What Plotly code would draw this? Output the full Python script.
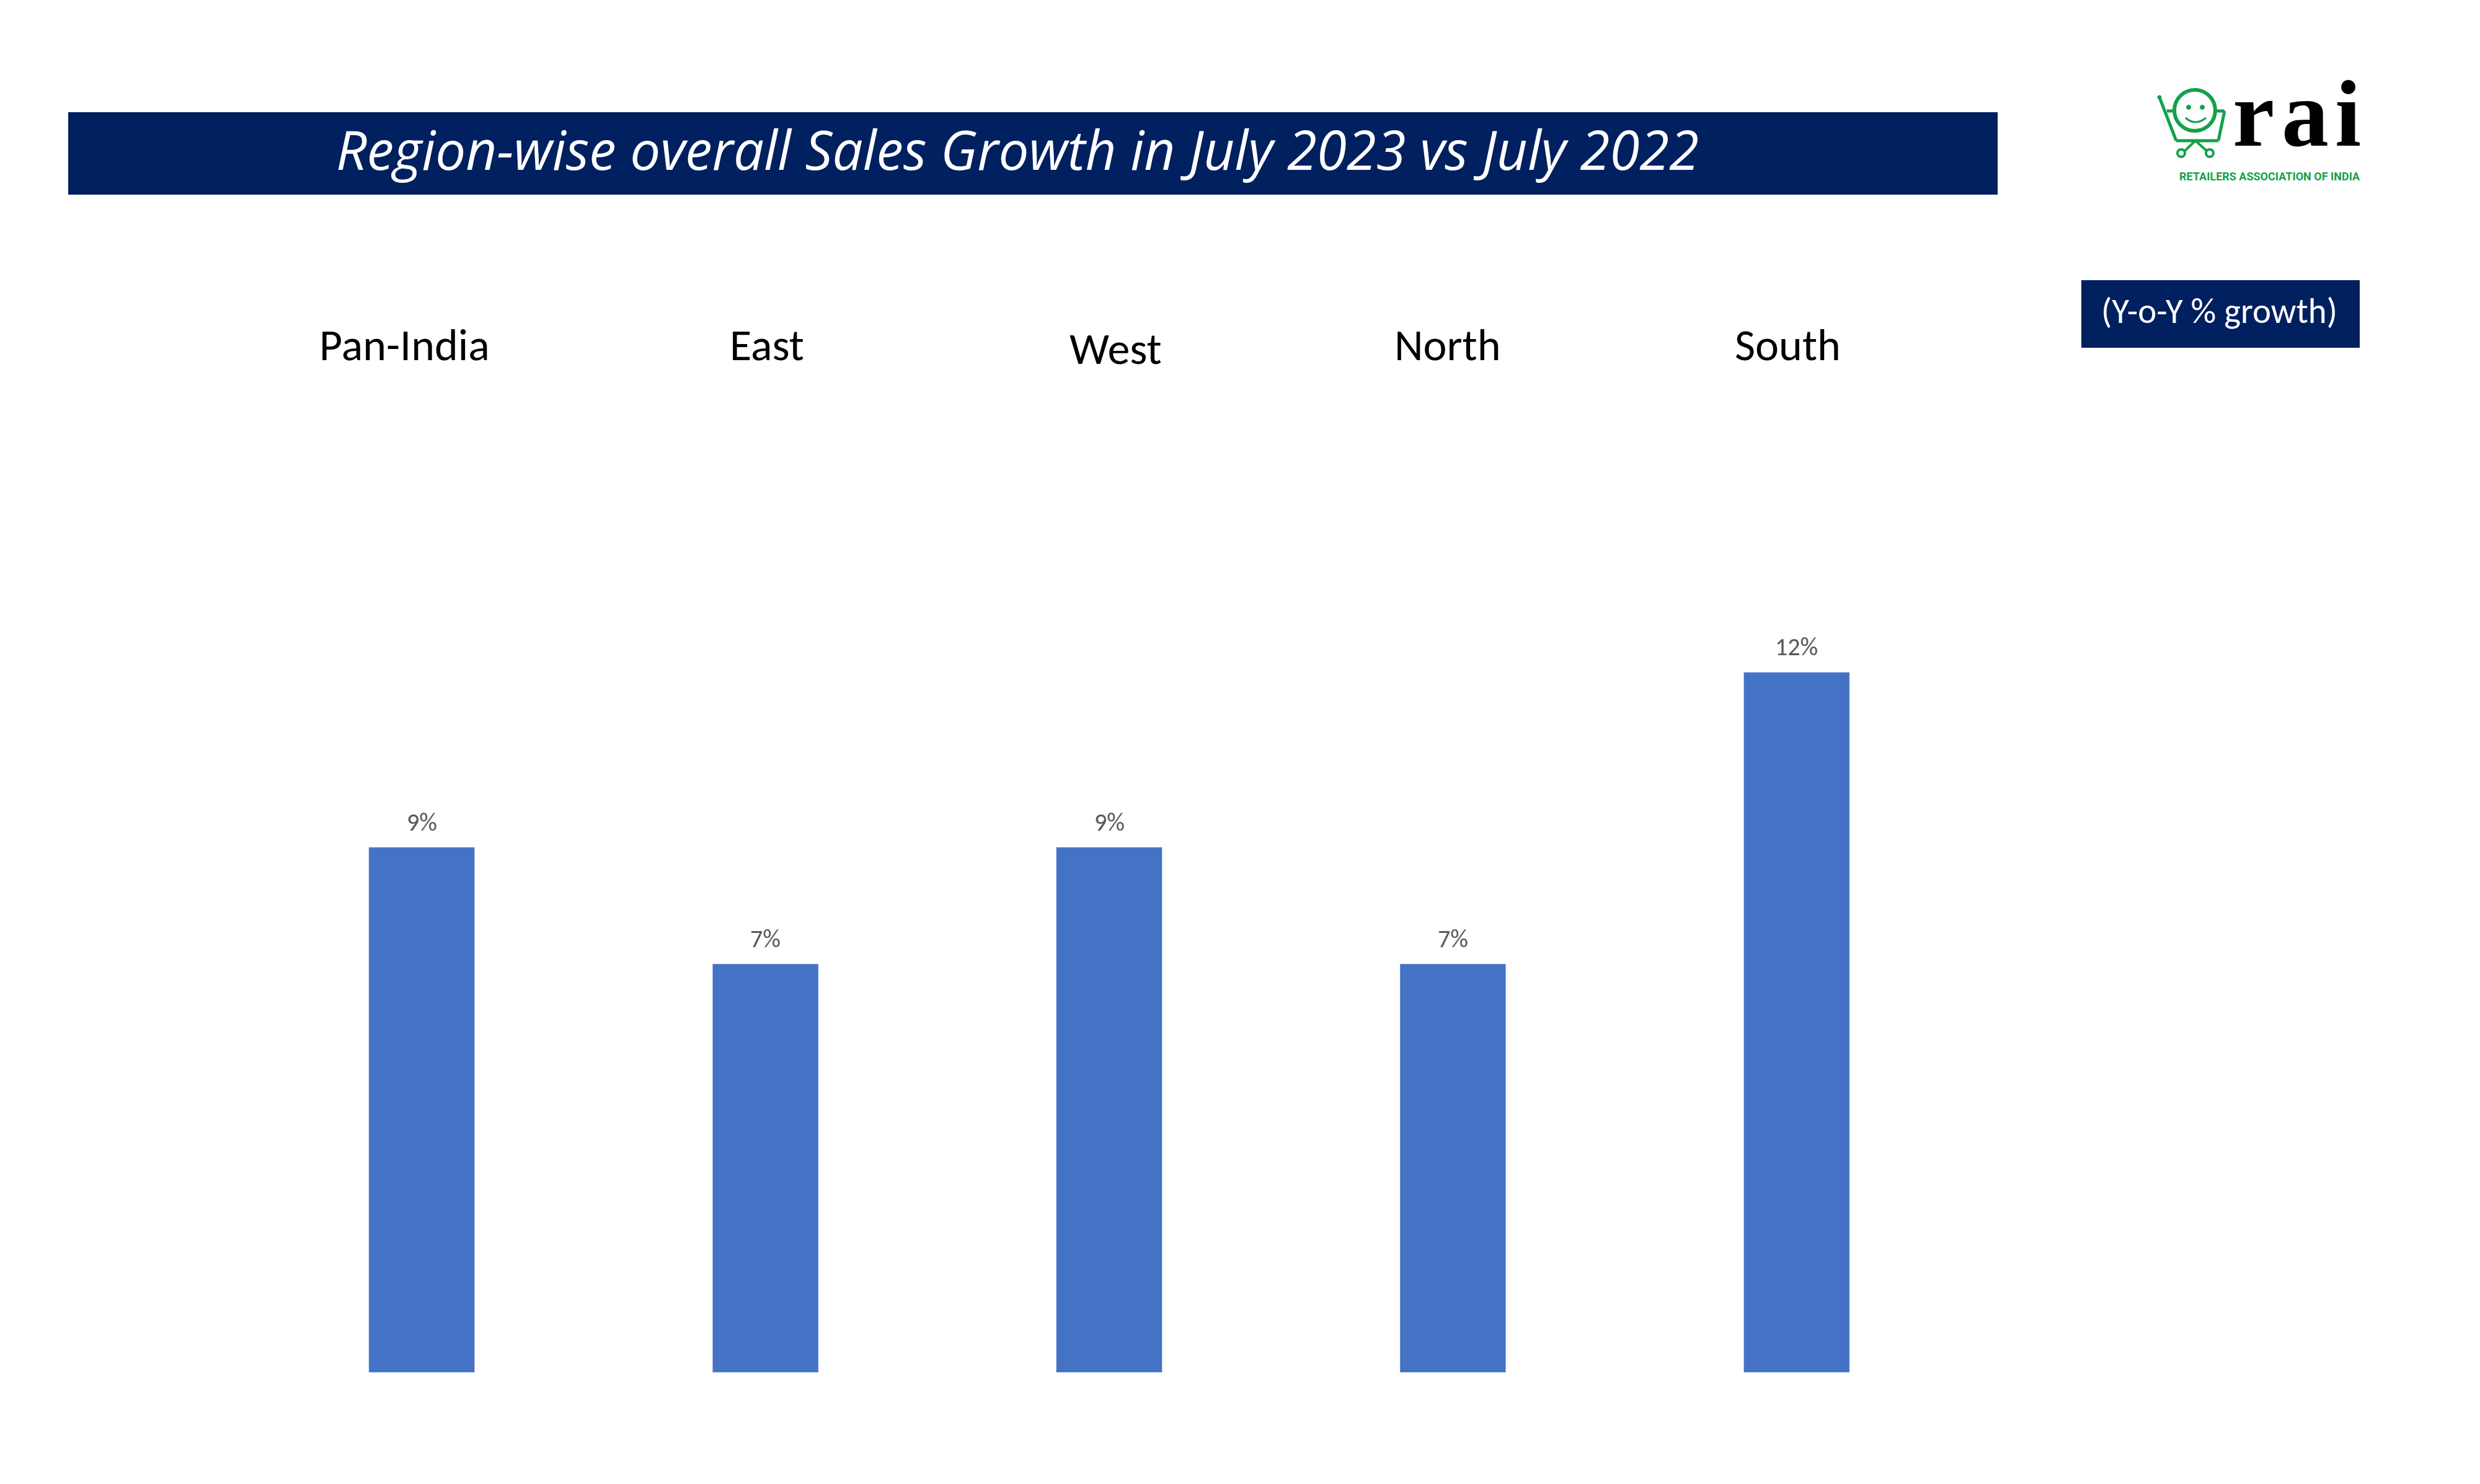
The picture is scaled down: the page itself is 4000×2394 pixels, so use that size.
import plotly.graph_objects as go

# ---- data ----
regions = ["Pan-India", "East", "West", "North", "South"]
growth = [9, 7, 9, 7, 12]
value_labels = ["9%", "7%", "9%", "7%", "12%"]
title_text = "Region-wise overall Sales Growth in July 2023 vs July 2022"
badge_text = "(Y-o-Y % growth)"
logo_word = ["r", "a", "i"]
logo_tagline = "RETAILERS ASSOCIATION OF INDIA"

W, H = 4000, 2394
NAVY = "#002060"
BLUE = "#4472C4"
GREEN = "#13A14B"
FONT = "Carlito, Lato, 'Open Sans', sans-serif"
TITLE_FONT = "'Open Sans', 'Noto Sans', sans-serif"
# small horizontal nudges of the header texts (layout styling, in px)
HEADER_NUDGE = {"Pan-India": -28, "East": 2, "West": 10, "North": -8, "South": -14}
HEADER_DROP = {"West": 6}


def px(x):
    return x / W


def py(y):
    return 1 - y / H


fig = go.Figure()
fig.add_trace(go.Bar(
    x=regions, y=growth, marker_color=BLUE, width=0.308,
    hoverinfo="x+y",
))

shapes = []
annotations = []

# title banner
shapes.append(dict(type="rect", xref="paper", yref="paper",
                   x0=px(110), x1=px(3222), y0=py(314), y1=py(181),
                   fillcolor=NAVY, line_width=0, layer="below"))
annotations.append(dict(xref="paper", yref="paper", x=px(1641), y=py(240),
                        text="<i>" + title_text + "</i>", showarrow=False,
                        xanchor="center", yanchor="middle",
                        font=dict(family=TITLE_FONT, size=87, color="white")))

# badge
shapes.append(dict(type="rect", xref="paper", yref="paper",
                   x0=px(3357), x1=px(3806), y0=py(561), y1=py(452),
                   fillcolor=NAVY, line_width=0))
annotations.append(dict(xref="paper", yref="paper", x=px(3579), y=py(501),
                        text=badge_text, showarrow=False,
                        xanchor="center", yanchor="middle",
                        font=dict(family=FONT, size=57, color="white")))

# category headers
for r in regions:
    annotations.append(dict(x=r, xref="x", yref="paper", y=py(556),
                            text=r, showarrow=False, xanchor="center",
                            yanchor="middle",
                            xshift=HEADER_NUDGE.get(r, 0),
                            yshift=-HEADER_DROP.get(r, 0),
                            font=dict(family=FONT, size=72, color="black")))

# value labels
for r, v, t in zip(regions, growth, value_labels):
    annotations.append(dict(x=r, y=v, xref="x", yref="y", text=t,
                            showarrow=False, yanchor="bottom", yshift=14,
                            font=dict(family=FONT, size=40, color="#595959")))

# ---- logo (drawn) ----
def seg(x0, y0, x1, y1, w=5):
    shapes.append(dict(type="line", xref="paper", yref="paper",
                       x0=px(x0), y0=py(y0), x1=px(x1), y1=py(y1),
                       line=dict(color=GREEN, width=w)))

def circ(cx, cy, r, fill=None, w=5):
    shapes.append(dict(type="circle", xref="paper", yref="paper",
                       x0=px(cx - r), x1=px(cx + r), y0=py(cy + r), y1=py(cy - r),
                       line=dict(color=GREEN, width=w),
                       fillcolor=fill if fill else "rgba(0,0,0,0)"))

# handle + basket
circ(3483, 157, 3, fill=GREEN, w=1)
seg(3483, 157, 3510, 227)
seg(3495, 179, 3588, 179)
seg(3588, 179, 3578, 227)
seg(3510, 227, 3578, 227)
# legs and wheels
seg(3541, 227, 3521, 246, 4)
seg(3541, 227, 3562, 246, 4)
circ(3518, 247, 6, fill="white", w=4)
circ(3564, 247, 6, fill="white", w=4)
# face
circ(3540, 178, 33, fill="white", w=6)
circ(3530, 173, 3.5, fill=GREEN, w=1)
circ(3552, 173, 3.5, fill=GREEN, w=1)
shapes.append(dict(type="path", xref="paper", yref="paper",
                   path=f"M {px(3525)} {py(190)} Q {px(3541)} {py(204)} {px(3558)} {py(190)}",
                   line=dict(color=GREEN, width=3)))

for ch, cx in zip(logo_word, [3634, 3718, 3787]):
    annotations.append(dict(xref="paper", yref="paper", x=px(cx), y=py(270),
                            text="<b>" + ch + "</b>", showarrow=False, xanchor="center",
                            yanchor="bottom",
                            font=dict(family="'Liberation Serif', 'DejaVu Serif', serif",
                                      size=152, color="black")))
annotations.append(dict(xref="paper", yref="paper", x=px(3661), y=py(284),
                        text="<b>" + logo_tagline + "</b>", showarrow=False,
                        xanchor="center", yanchor="middle",
                        font=dict(family="'Liberation Sans Narrow', 'Roboto', sans-serif",
                                  size=18, color=GREEN)))

fig.update_layout(
    width=W, height=H,
    margin=dict(l=0, r=0, t=0, b=0),
    paper_bgcolor="white", plot_bgcolor="white",
    showlegend=False,
    xaxis=dict(domain=[px(403), px(3175)], showticklabels=False,
               showgrid=False, zeroline=False, showline=False, ticks=""),
    yaxis=dict(domain=[py(2214), py(802)], range=[0, 15], visible=False,
               showgrid=False, zeroline=False),
    shapes=shapes, annotations=annotations,
)

fig.write_html("out.html",
               config={"displayModeBar": False},
               post_script="document.body.style.margin='0';document.body.style.overflow='hidden';")
